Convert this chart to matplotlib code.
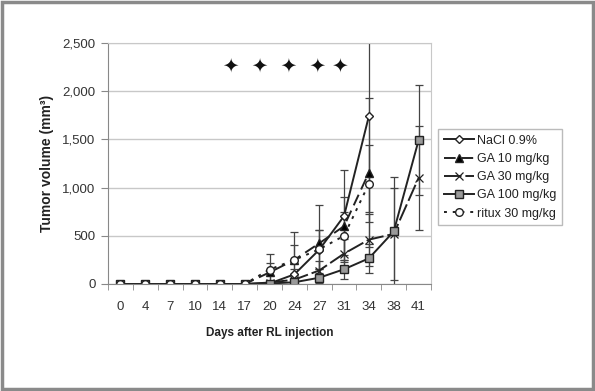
import numpy as np
import matplotlib
matplotlib.use('Agg')
from matplotlib import pyplot as plt
from matplotlib.patches import Rectangle

plt.rcParams['font.family'] = ['Liberation Sans', 'DejaVu Sans']

days = ['0', '4', '7', '10', '14', '17', '20', '24', '27', '31', '34', '38', '41']

# mean tumour volume (mm3), None = no more animals
nacl = [0, 0, 0, 0, 0, 0, 5, 100, 355, 705, 1742, None, None]
nacl_err = [0, 0, 0, 0, 0, 0, 0, 60, 200, 477, 1000, None, None]
ga10 = [0, 0, 0, 0, 0, 0, 120, 250, 422, 600, 1155, None, None]
ga10_err = [0, 0, 0, 0, 0, 0, 100, 150, 400, 300, 770, None, None]
ga30 = [0, 0, 0, 0, 0, 0, 15, 45, 140, 315, 460, 520, 1100]
ga30_err = [0, 0, 0, 0, 0, 0, 20, 50, 100, 150, 270, 480, 540]
ga100 = [0, 0, 0, 0, 0, 0, 5, 18, 65, 153, 266, 545, 1490]
ga100_err = [0, 0, 0, 0, 0, 0, 10, 20, 50, 100, 150, 565, 570]
ritux = [0, 0, 0, 0, 0, 0, 150, 250, 360, 500, 1040, None, None]
ritux_err = [0, 0, 0, 0, 0, 0, 165, 290, 200, 250, 400, None, None]


def arr(v):
    return np.array([np.nan if a is None else a for a in v], dtype=float)


fig = plt.figure(figsize=(5.95, 3.91), dpi=100)
ax = fig.add_axes([108 / 595, 1 - 284 / 391, 323 / 595, 241 / 391])

x = np.arange(len(days))
lc = '#222222'
ec = '#444444'

series = [
    ('NaCl 0.9%', nacl, nacl_err, dict(linestyle='-', marker='D', markersize=4.5, markerfacecolor='white')),
    ('GA 10 mg/kg', ga10, ga10_err, dict(linestyle=(0, (6, 3)), marker='^', markersize=5.5, markerfacecolor='black')),
    ('GA 30 mg/kg', ga30, ga30_err, dict(linestyle=(0, (9, 2)), marker='x', markersize=6, markeredgewidth=0.9)),
    ('GA 100 mg/kg', ga100, ga100_err, dict(linestyle='-', marker='s', markersize=5.5, markerfacecolor='#9a9a9a')),
    ('ritux 30 mg/kg', ritux, ritux_err, dict(linestyle=(0, (1.5, 3)), marker='o', markersize=5.5, markerfacecolor='white')),
]

handles = []
labels = []
for name, y, e, st in series:
    c = ax.errorbar(x, arr(y), yerr=arr(e), color=lc, ecolor=ec, elinewidth=0.9,
                    capsize=3, capthick=0.9, linewidth=1.4, markeredgecolor=lc,
                    **st)
    handles.append(c[0])
    labels.append(name)

ax.set_xlim(-0.5, len(days) - 0.5)
ax.set_ylim(0, 2500)
ax.set_yticks(np.arange(0, 2501, 500))
ax.set_yticklabels(['{:,}'.format(v) for v in range(0, 2501, 500)])
ax.set_xticks(x)
ax.set_xticklabels(days)
ax.set_xticks(np.arange(-0.5, len(days)), minor=True)
ax.tick_params(axis='x', which='major', length=0, pad=12, labelsize=9.5, colors='#333333')
ax.tick_params(axis='x', which='minor', length=4, color='#888888', direction='out')
ax.tick_params(axis='y', length=5, color='#888888', labelsize=9.5, colors='#333333', pad=4)
ax.grid(axis='y', color='#c8c8c8', linewidth=1)
ax.set_axisbelow(True)
for s in ax.spines.values():
    s.set_color('#c8c8c8')
ax.spines['left'].set_color('#888888')
ax.spines['bottom'].set_color('#888888')

ax.set_ylabel('Tumor volume (mm³)', fontsize=10, fontweight='bold', color='#222222', labelpad=6)
ax.set_xlabel('Days after RL injection', fontsize=8.5, fontweight='bold', color='#222222', labelpad=10)

ax.text(0.55, 0.905, '✦  ✦  ✦  ✦ ✦', transform=ax.transAxes, ha='center', va='center',
        fontsize=14, color='#111111', family='DejaVu Sans')

leg = fig.legend(handles, labels, loc='upper left', bbox_to_anchor=(438 / 595, 1 - 129 / 391),
                 bbox_transform=fig.transFigure, frameon=True, fancybox=False,
                 edgecolor='#aaaaaa', fontsize=9, handlelength=2.4, handletextpad=0.3,
                 borderaxespad=0, labelspacing=0.5, borderpad=0.45)
leg.get_frame().set_linewidth(1.0)
for t in leg.get_texts():
    t.set_color('#222222')

fig.patches.append(Rectangle((0.004, 0.006), 0.992, 0.988, transform=fig.transFigure,
                             fill=False, edgecolor='#8a8a8a', linewidth=2.5))

fig.savefig('out.png', dpi=100)
